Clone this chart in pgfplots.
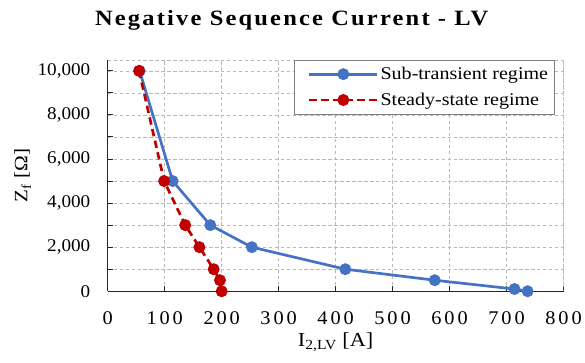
\documentclass[border=0pt]{standalone}
\usepackage{fontspec}
\setmainfont[FakeStretch=1.12]{Liberation Serif}
\newfontfamily\titlefont[FakeStretch=1.12,LetterSpace=10]{Liberation Serif}
\newfontfamily\xtickfont[FakeStretch=1.05,LetterSpace=15]{Liberation Serif}
\newfontfamily\ytickfont[FakeStretch=1.07]{Liberation Serif}
\usepackage{pgfplots}
\pgfplotsset{compat=1.18}
\definecolor{myblue}{HTML}{4472C4}
\definecolor{myred}{HTML}{C00000}
\begin{document}
\begin{tikzpicture}
\begin{axis}[
  name=ax,
  scale only axis,
  width=457bp, height=232bp,
  xmin=0, xmax=800, ymin=0, ymax=10500,
  xtick={0,100,...,800},
  ytick={0,2000,...,10000},
  minor ytick={1000,3000,...,9000},
  scaled y ticks=false, scaled x ticks=false,
  grid=both,
  major grid style={gray!55, dash pattern=on 3.5pt off 2.5pt, line width=0.6pt},
  minor grid style={gray!55, dash pattern=on 3.5pt off 2.5pt, line width=0.6pt},
  axis x line*=bottom, axis y line*=left,
  axis line style={black!85, line width=1.3pt, -},
  tick align=inside,
  major tick length=5bp, minor tick length=5bp,
  tick style={black!85, line width=1pt},
  /pgf/number format/assume math mode=true,
  /pgf/number format/.cd, fixed, 1000 sep={,}, /pgfplots/.cd,
  yticklabel style={font=\fontsize{18}{20}\selectfont\ytickfont, xshift=-14bp},
  xticklabel style={font=\fontsize{19.5}{21}\selectfont\xtickfont, yshift=-17bp},
  xlabel={I\textsubscript{2,LV} [A]},
  ylabel={Z\textsubscript{f} [Ω]},
  xlabel style={font=\fontsize{20}{22}\selectfont, yshift=-1bp},
  ylabel style={font=\fontsize{19}{21}\selectfont, yshift=0bp},
  title={Negative Sequence Current - LV},
  title style={font=\fontsize{22}{24}\selectfont\bfseries\titlefont, yshift=20bp, xshift=-44bp},
  legend style={at={(0.98,1.0)}, anchor=north east, draw=gray, fill=white,
    font=\fontsize{18}{20}\selectfont, line width=0.8pt, inner xsep=4bp, inner ysep=5bp, row sep=8bp},
  legend cell align=left,
  legend image code/.code={\path (-10bp,0bp); \draw[mark repeat=2,mark phase=2,#1] plot coordinates {(0bp,0bp) (34bp,0bp) (68bp,0bp)};},
]
\addplot[myblue, line width=2.7pt, mark=*, mark size=4.6pt, mark options={solid}] coordinates {
(56,10000) (114,5000) (180,3000) (253,2000) (417,1000) (574,500) (714,100) (737,0)
};
\addlegendentry{Sub-transient regime}
\addplot[myred, line width=2.7pt, dashed, dash pattern=on 7.5pt off 4.5pt, mark=*, mark size=4.6pt, mark options={solid}] coordinates {
(55,10000) (99,5000) (136,3000) (161,2000) (186,1000) (197,500) (200,0)
};
\addlegendentry{Steady-state regime}
\draw[gray!55, dash pattern=on 3.5pt off 2.5pt, line width=0.6pt] (rel axis cs:0,1) -- (rel axis cs:1,1) -- (rel axis cs:1,0);
\end{axis}
\path ([xshift=-108bp]ax.west) ([xshift=20bp]ax.east)
      ([yshift=60bp]ax.north) ([yshift=-71bp]ax.south);
\end{tikzpicture}
\end{document}
